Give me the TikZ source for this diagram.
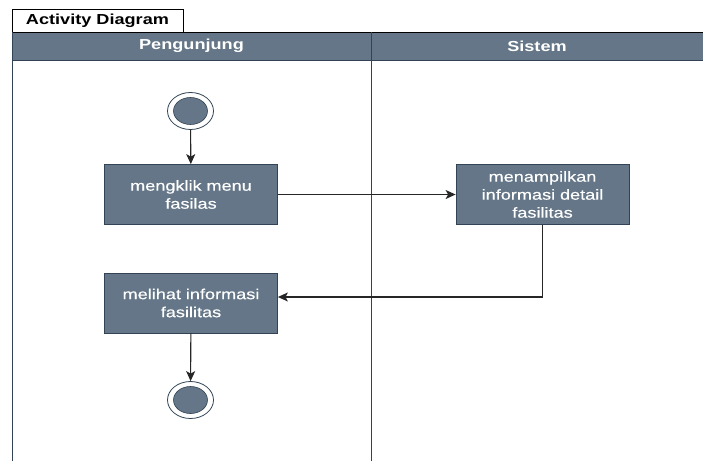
\documentclass[tikz,border=0pt]{standalone}
\usepackage{fontspec}
\usetikzlibrary{arrows.meta,shapes.geometric}
\newfontfamily\lab[FakeStretch=1.25]{Liberation Sans}
\newfontfamily\labtext[FakeStretch=1.25,FakeBold=0.4]{Liberation Sans}
\definecolor{actfill}{HTML}{647687}
\definecolor{actline}{HTML}{314354}
\begin{document}
\begin{tikzpicture}[x=1pt,y=-1pt,
  actbox/.style={draw=actline,fill=actfill,line width=0.8pt,rectangle,
    minimum width=173pt,minimum height=60pt,inner sep=2pt,align=center,
    text=white,font=\labtext\fontsize{14.5}{18}\selectfont,text width=160pt},
  outerdot/.style={draw=actline,fill=white,ellipse,line width=0.8pt,
    minimum width=46pt,minimum height=37pt,inner sep=0pt},
  innerdot/.style={draw=actline,fill=actfill,ellipse,line width=0.6pt,
    minimum width=34pt,minimum height=27pt,inner sep=0pt},
  flow/.style={draw=black!85,line width=1.1pt,-{Stealth[length=10pt,width=9pt,inset=2.5pt]}},
  lane/.style={draw=actline,line width=1pt},
  headtext/.style={text=white,font=\lab\bfseries\fontsize{14.5}{16}\selectfont}]
\useasboundingbox (0,0) rectangle (703,461);

% swimlane frame and header
\fill[actfill] (12,32) rectangle (703,60);
\draw[lane] (12,60) -- (703,60);
\draw[black,line width=1pt] (12,32) -- (703,32);
\draw[lane] (12,32) -- (12,461);
\draw[lane] (371,32) -- (371,461);
\node[headtext] (laneA) at (191.5,46) {Pengunjung};
\node[headtext] (laneB) at (537,46) {Sistem};

% title tab
\draw[black,fill=white,line width=0.8pt] (12,32) -- (12,9) -- (183,9) -- (183,32);
\node[font=\lab\bfseries\fontsize{14.5}{16}\selectfont] (title) at (97.5,20.5) {Activity Diagram};

% start node
\node[outerdot] (start) at (190.5,111) {};
\node[innerdot] at (start) {};

% actions
\node[actbox] (act1) at (191,194.5) {mengklik menu\\fasilas};
\node[actbox] (act2) at (542.5,194.5) {menampilkan\\informasi detail\\fasilitas};
\node[actbox] (act3) at (191,303) {melihat informasi\\fasilitas};

% end node
\node[outerdot] (end) at (190.5,400) {};
\node[innerdot] at (end) {};

% flows
\draw[flow] (start) -- (act1);
\draw[flow] (act1) -- (act2);
\draw[flow] (act2.south) |- ([yshift=6pt]act3.east);
\draw[flow] (act3) -- (end);
\end{tikzpicture}
\end{document}
